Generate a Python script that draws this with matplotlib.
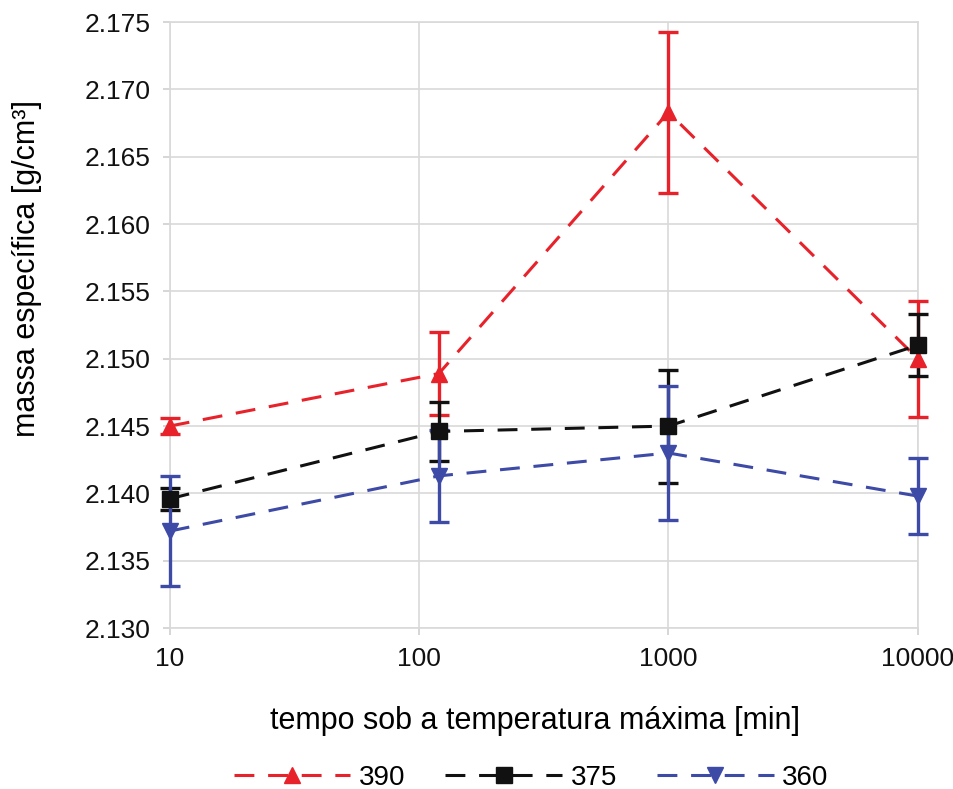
import matplotlib
matplotlib.use("Agg")
import matplotlib.pyplot as plt
from matplotlib.lines import Line2D
from matplotlib.ticker import FixedLocator, FixedFormatter, MultipleLocator, FormatStrFormatter

plt.rcParams["font.family"] = ["Liberation Sans", "DejaVu Sans"]

# tempo sob a temperatura maxima [min]
x_390 = [10, 120, 1000, 10000]
x_375 = [10, 120, 1000, 10000]
x_360 = [10, 120, 1000, 10000]

# massa especifica [g/cm3]
y_390 = [2.1450, 2.1489, 2.1683, 2.1500]
y_375 = [2.1396, 2.1446, 2.1450, 2.1510]
y_360 = [2.1372, 2.1413, 2.1430, 2.1398]

err_390 = [0.0006, 0.0031, 0.0060, 0.0043]
err_375 = [0.0008, 0.0022, 0.0042, 0.0023]
err_360 = [0.0041, 0.0034, 0.0050, 0.0028]

labels = ["390", "375", "360"]
xticks = [10, 100, 1000, 10000]

fig = plt.figure(figsize=(9.54, 7.89), dpi=100)
ax = fig.add_axes([0.178, 0.204, 0.784, 0.768])

dash = (0, (6.5, 4.5))
series = [
    (x_390, y_390, err_390, "#e8222b", "^", 12),
    (x_375, y_375, err_375, "#111111", "s", 11),
    (x_360, y_360, err_360, "#3d4aa6", "v", 12),
]
handles = []
for (x, y, e, c, m, ms), lab in zip(series, labels):
    _, caps, bars = ax.errorbar(x, y, yerr=e, color=c, marker=m, markersize=ms,
                                linestyle=dash, linewidth=2.2, elinewidth=2.4,
                                capsize=7, capthick=2.4, zorder=3)
    for a in ax.lines + list(caps) + list(bars):
        a.set_clip_on(False)
    handles.append(Line2D([], [], color=c, marker=m, markersize=ms,
                          linestyle=dash, linewidth=2.2, label=lab))

ax.set_xscale("log")
ax.set_xlim(10, 10000)
ax.set_ylim(2.130, 2.175)
ax.xaxis.set_major_locator(FixedLocator(xticks))
ax.xaxis.set_major_formatter(FixedFormatter([str(v) for v in xticks]))
ax.xaxis.set_minor_locator(FixedLocator([]))
ax.yaxis.set_major_locator(MultipleLocator(0.005))
ax.yaxis.set_major_formatter(FormatStrFormatter("%.3f"))

ax.grid(True, color="#d9d9d9", linewidth=1.2)
ax.set_axisbelow(True)
for s in ax.spines.values():
    s.set_color("#d9d9d9")
    s.set_linewidth(1.2)
ax.tick_params(length=5, width=1.2, color="#d0d0d0", labelsize=19, pad=9,
               labelcolor="#111111")

ax.set_xlabel("tempo sob a temperatura máxima [min]", fontsize=22)
ax.set_ylabel("massa específica [g/cm³]", fontsize=22)
ax.xaxis.set_label_coords(0.488, -0.128)
ax.yaxis.set_label_coords(-0.171, 0.594)

ax.legend(handles=handles, loc="center", bbox_to_anchor=(0.483, -0.247), ncol=3,
          frameon=False, fontsize=20, handlelength=4.2, columnspacing=1.45,
          handletextpad=0.3)

fig.savefig("out.png", dpi=100)
